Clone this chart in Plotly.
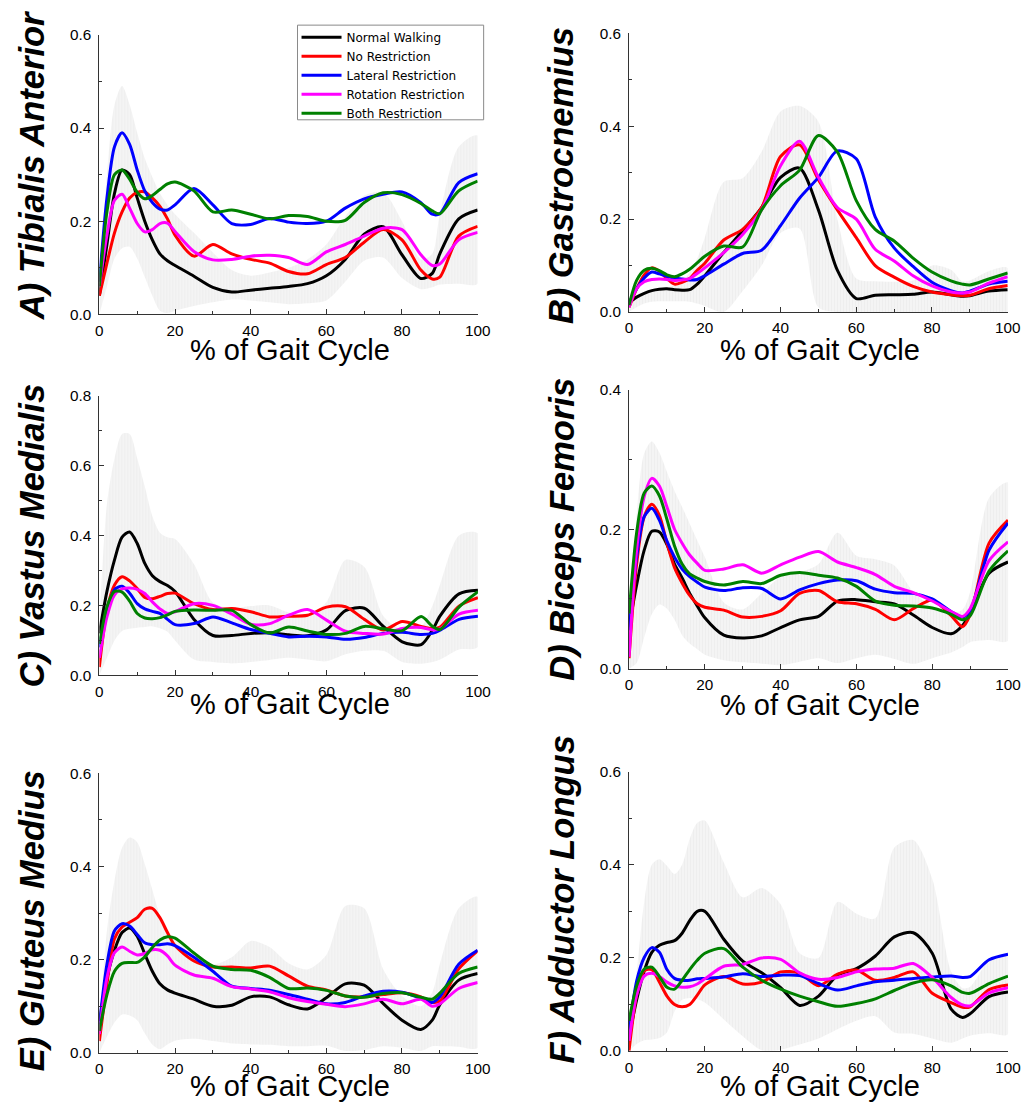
import plotly.graph_objects as go

# ---------------- data ----------------
PCT = [0, 2, 4, 6, 8, 10, 12, 14, 16, 18, 20, 25, 30, 35, 40, 45, 50, 55, 60, 65, 70, 75, 80, 85, 88, 90, 95, 100]
SERIES = ["Normal Walking", "No Restriction", "Lateral Restriction", "Rotation Restriction", "Both Restriction"]
COLORS = ["#000000", "#ff0000", "#0000ff", "#ff00ff", "#008000"]
MUSCLES = ["A) Tibialis Anterior", "B) Gastrocnemius", "C) Vastus Medialis",
           "D) Biceps Femoris", "E) Gluteus Medius", "F) Adductor Longus"]
Y_MAX = [0.6, 0.6, 0.8, 0.4, 0.6, 0.6]
X_TICKS = [0, 20, 40, 60, 80, 100]
X_TITLE = "% of Gait Cycle"

# A) Tibialis Anterior
A_NORMAL = [0.04, 0.15, 0.26, 0.31, 0.30, 0.25, 0.20, 0.16, 0.13, 0.115, 0.105, 0.082, 0.058, 0.048, 0.052, 0.056, 0.06, 0.066, 0.083, 0.118, 0.172, 0.188, 0.128, 0.077, 0.088, 0.13, 0.205, 0.224]
A_NO = [0.04, 0.11, 0.175, 0.22, 0.25, 0.262, 0.263, 0.25, 0.232, 0.205, 0.17, 0.125, 0.15, 0.13, 0.118, 0.11, 0.092, 0.087, 0.107, 0.122, 0.155, 0.182, 0.16, 0.095, 0.076, 0.08, 0.168, 0.189]
A_LAT = [0.07, 0.25, 0.36, 0.39, 0.365, 0.31, 0.265, 0.24, 0.226, 0.224, 0.235, 0.27, 0.235, 0.195, 0.193, 0.206, 0.198, 0.195, 0.2, 0.228, 0.248, 0.258, 0.263, 0.24, 0.215, 0.216, 0.283, 0.302]
A_ROT = [0.06, 0.17, 0.245, 0.258, 0.228, 0.195, 0.177, 0.182, 0.195, 0.196, 0.178, 0.135, 0.117, 0.118, 0.125, 0.127, 0.122, 0.107, 0.134, 0.15, 0.168, 0.185, 0.182, 0.128, 0.105, 0.108, 0.16, 0.176]
A_BOTH = [0.06, 0.22, 0.30, 0.31, 0.29, 0.262, 0.248, 0.255, 0.268, 0.28, 0.284, 0.265, 0.22, 0.224, 0.215, 0.205, 0.212, 0.21, 0.2, 0.202, 0.24, 0.261, 0.257, 0.238, 0.222, 0.216, 0.265, 0.286]
A_UPPER = [0.07, 0.3, 0.45, 0.49, 0.45, 0.39, 0.335, 0.295, 0.26, 0.235, 0.215, 0.175, 0.133, 0.095, 0.083, 0.09, 0.1, 0.118, 0.15, 0.21, 0.255, 0.262, 0.2, 0.118, 0.13, 0.215, 0.36, 0.384]
A_LOWER = [0.0, 0.06, 0.12, 0.142, 0.145, 0.12, 0.08, 0.04, 0.008, 0.003, 0.008, 0.018, 0.026, 0.032, 0.03, 0.026, 0.022, 0.024, 0.03, 0.07, 0.115, 0.122, 0.078, 0.054, 0.058, 0.064, 0.066, 0.066]

# B) Gastrocnemius
B_NORMAL = [0.02, 0.032, 0.04, 0.046, 0.049, 0.05, 0.048, 0.047, 0.048, 0.06, 0.078, 0.128, 0.175, 0.225, 0.29, 0.31, 0.22, 0.09, 0.029, 0.036, 0.037, 0.038, 0.043, 0.037, 0.034, 0.035, 0.045, 0.048]
B_NO = [0.01, 0.05, 0.08, 0.095, 0.088, 0.072, 0.06, 0.064, 0.072, 0.09, 0.105, 0.155, 0.178, 0.225, 0.335, 0.36, 0.285, 0.22, 0.16, 0.1, 0.075, 0.055, 0.043, 0.037, 0.035, 0.036, 0.05, 0.057]
B_LAT = [0.02, 0.05, 0.073, 0.086, 0.082, 0.077, 0.073, 0.071, 0.069, 0.07, 0.078, 0.103, 0.126, 0.133, 0.186, 0.245, 0.29, 0.347, 0.33, 0.205, 0.138, 0.098, 0.064, 0.046, 0.041, 0.045, 0.06, 0.066]
B_ROT = [0.01, 0.05, 0.065, 0.07, 0.071, 0.07, 0.068, 0.069, 0.072, 0.083, 0.095, 0.128, 0.167, 0.22, 0.315, 0.368, 0.29, 0.225, 0.2, 0.135, 0.11, 0.078, 0.056, 0.043, 0.041, 0.043, 0.062, 0.076]
B_BOTH = [0.015, 0.068, 0.09, 0.094, 0.089, 0.08, 0.076, 0.082, 0.092, 0.106, 0.12, 0.142, 0.14, 0.22, 0.272, 0.305, 0.38, 0.345, 0.24, 0.178, 0.153, 0.116, 0.086, 0.067, 0.06, 0.058, 0.071, 0.084]
B_UPPER = [0.02, 0.035, 0.042, 0.046, 0.048, 0.052, 0.058, 0.065, 0.085, 0.115, 0.16, 0.28, 0.288, 0.345, 0.432, 0.444, 0.41, 0.2, 0.072, 0.066, 0.065, 0.068, 0.1, 0.091, 0.066, 0.068, 0.088, 0.095]
B_LOWER = [0.0, 0.01, 0.018, 0.022, 0.023, 0.023, 0.023, 0.023, 0.022, 0.018, 0.013, 0.0, 0.045, 0.1, 0.17, 0.18, 0.01, 0.0, 0.0, 0.0, 0.0, 0.0, 0.0, 0.0, 0.0, 0.0, 0.0, 0.0]

# C) Vastus Medialis
C_NORMAL = [0.12, 0.24, 0.33, 0.395, 0.41, 0.377, 0.32, 0.285, 0.268, 0.257, 0.24, 0.16, 0.114, 0.114, 0.12, 0.122, 0.116, 0.113, 0.13, 0.185, 0.192, 0.14, 0.096, 0.088, 0.13, 0.17, 0.233, 0.243]
C_NO = [0.024, 0.186, 0.258, 0.282, 0.27, 0.248, 0.223, 0.219, 0.226, 0.234, 0.235, 0.205, 0.188, 0.191, 0.182, 0.167, 0.169, 0.172, 0.195, 0.196, 0.16, 0.13, 0.154, 0.14, 0.134, 0.138, 0.198, 0.222]
C_LAT = [0.08, 0.186, 0.245, 0.255, 0.235, 0.205, 0.19, 0.183, 0.177, 0.16, 0.145, 0.148, 0.167, 0.15, 0.131, 0.12, 0.11, 0.112, 0.11, 0.103, 0.108, 0.12, 0.123, 0.117, 0.12, 0.129, 0.16, 0.169]
C_ROT = [0.05, 0.167, 0.23, 0.247, 0.25, 0.246, 0.234, 0.21, 0.19, 0.177, 0.182, 0.205, 0.2, 0.175, 0.146, 0.148, 0.172, 0.188, 0.158, 0.126, 0.12, 0.118, 0.134, 0.137, 0.13, 0.133, 0.175, 0.186]
C_BOTH = [0.09, 0.196, 0.24, 0.238, 0.212, 0.177, 0.164, 0.162, 0.165, 0.173, 0.183, 0.187, 0.186, 0.186, 0.145, 0.121, 0.138, 0.127, 0.117, 0.12, 0.14, 0.133, 0.128, 0.168, 0.14, 0.131, 0.195, 0.239]
C_UPPER = [0.15, 0.49, 0.62, 0.69, 0.69, 0.62, 0.54, 0.455, 0.408, 0.395, 0.39, 0.318, 0.208, 0.192, 0.198, 0.2, 0.18, 0.17, 0.21, 0.33, 0.31, 0.17, 0.13, 0.14, 0.2, 0.26, 0.4, 0.406]
C_LOWER = [0.0, 0.05, 0.1, 0.127, 0.133, 0.136, 0.138, 0.14, 0.135, 0.125, 0.1, 0.045, 0.038, 0.034, 0.038, 0.044, 0.05, 0.045, 0.04, 0.06, 0.07, 0.07, 0.038, 0.033, 0.038, 0.045, 0.074, 0.081]

# D) Biceps Femoris
D_NORMAL = [0.06, 0.12, 0.17, 0.197, 0.196, 0.178, 0.15, 0.13, 0.108, 0.09, 0.073, 0.048, 0.044, 0.047, 0.059, 0.07, 0.075, 0.097, 0.099, 0.096, 0.093, 0.077, 0.059, 0.05, 0.062, 0.08, 0.137, 0.153]
D_NO = [0.015, 0.15, 0.218, 0.236, 0.22, 0.18, 0.145, 0.123, 0.105, 0.093, 0.088, 0.084, 0.074, 0.075, 0.083, 0.108, 0.112, 0.096, 0.093, 0.085, 0.07, 0.086, 0.098, 0.076, 0.06, 0.077, 0.18, 0.213]
D_LAT = [0.055, 0.16, 0.218, 0.23, 0.213, 0.183, 0.16, 0.143, 0.132, 0.124, 0.117, 0.112, 0.116, 0.115, 0.1, 0.113, 0.122, 0.127, 0.126, 0.114, 0.109, 0.108, 0.1, 0.082, 0.074, 0.083, 0.17, 0.209]
D_ROT = [0.017, 0.17, 0.247, 0.273, 0.262, 0.232, 0.2, 0.18, 0.163, 0.151, 0.141, 0.143, 0.149, 0.137, 0.149, 0.16, 0.168, 0.153, 0.145, 0.135, 0.118, 0.109, 0.097, 0.082, 0.075, 0.086, 0.155, 0.182]
D_BOTH = [0.079, 0.195, 0.252, 0.262, 0.248, 0.214, 0.176, 0.15, 0.136, 0.13, 0.125, 0.12, 0.125, 0.122, 0.134, 0.138, 0.134, 0.13, 0.118, 0.097, 0.091, 0.09, 0.087, 0.078, 0.07, 0.076, 0.14, 0.169]
D_UPPER = [0.03, 0.22, 0.309, 0.326, 0.31, 0.282, 0.255, 0.232, 0.208, 0.184, 0.16, 0.095, 0.085, 0.108, 0.132, 0.138, 0.15, 0.195, 0.162, 0.157, 0.148, 0.11, 0.09, 0.08, 0.085, 0.11, 0.245, 0.267]
D_LOWER = [0.0, 0.008, 0.045, 0.078, 0.092, 0.086, 0.07, 0.048, 0.036, 0.028, 0.02, 0.012, 0.009, 0.007, 0.005, 0.01, 0.015, 0.008, 0.015, 0.02, 0.014, 0.007, 0.015, 0.023, 0.031, 0.038, 0.041, 0.04]

# E) Gluteus Medius
E_NORMAL = [0.068, 0.16, 0.22, 0.258, 0.268, 0.25, 0.212, 0.175, 0.148, 0.135, 0.128, 0.115, 0.1, 0.102, 0.12, 0.12, 0.103, 0.094, 0.118, 0.148, 0.145, 0.106, 0.07, 0.05, 0.07, 0.103, 0.156, 0.17]
E_NO = [0.025, 0.147, 0.245, 0.27, 0.28, 0.29, 0.308, 0.31, 0.29, 0.258, 0.23, 0.197, 0.184, 0.184, 0.182, 0.186, 0.165, 0.143, 0.135, 0.122, 0.12, 0.125, 0.129, 0.12, 0.108, 0.111, 0.18, 0.219]
E_LAT = [0.061, 0.19, 0.262, 0.277, 0.272, 0.254, 0.236, 0.232, 0.232, 0.234, 0.23, 0.205, 0.175, 0.143, 0.138, 0.134, 0.125, 0.115, 0.105, 0.108, 0.122, 0.132, 0.13, 0.117, 0.108, 0.12, 0.19, 0.22]
E_ROT = [0.04, 0.161, 0.215, 0.227, 0.218, 0.21, 0.213, 0.221, 0.22, 0.208, 0.188, 0.167, 0.16, 0.142, 0.137, 0.131, 0.118, 0.11, 0.104, 0.099, 0.105, 0.115, 0.105, 0.115, 0.1, 0.105, 0.138, 0.151]
E_BOTH = [0.047, 0.125, 0.175, 0.192, 0.194, 0.194, 0.206, 0.226, 0.242, 0.249, 0.246, 0.214, 0.186, 0.179, 0.177, 0.162, 0.138, 0.139, 0.134, 0.122, 0.119, 0.127, 0.129, 0.119, 0.115, 0.128, 0.17, 0.184]
E_UPPER = [0.06, 0.262, 0.37, 0.44, 0.462, 0.452, 0.405, 0.35, 0.295, 0.26, 0.245, 0.215, 0.19, 0.205, 0.24, 0.227, 0.192, 0.179, 0.21, 0.315, 0.31, 0.18, 0.122, 0.1, 0.13, 0.19, 0.31, 0.335]
E_LOWER = [0.0, 0.035, 0.065, 0.082, 0.08, 0.07, 0.042, 0.018, 0.008, 0.018, 0.026, 0.03, 0.025, 0.02, 0.018, 0.017, 0.014, 0.014, 0.015, 0.004, 0.006, 0.014, 0.011, 0.004, 0.014, 0.014, 0.013, 0.011]

# F) Adductor Longus
F_NORMAL = [0.03, 0.11, 0.172, 0.212, 0.227, 0.233, 0.237, 0.253, 0.28, 0.3, 0.3, 0.24, 0.193, 0.168, 0.136, 0.098, 0.118, 0.163, 0.177, 0.204, 0.245, 0.254, 0.21, 0.09, 0.072, 0.08, 0.117, 0.127]
F_NO = [0.001, 0.12, 0.172, 0.175, 0.148, 0.118, 0.1, 0.095, 0.1, 0.12, 0.142, 0.16, 0.144, 0.148, 0.17, 0.167, 0.14, 0.165, 0.174, 0.152, 0.158, 0.17, 0.124, 0.104, 0.094, 0.095, 0.132, 0.142]
F_LAT = [0.043, 0.15, 0.201, 0.222, 0.212, 0.175, 0.156, 0.152, 0.152, 0.155, 0.156, 0.159, 0.166, 0.16, 0.163, 0.162, 0.145, 0.131, 0.14, 0.149, 0.152, 0.156, 0.159, 0.161, 0.158, 0.16, 0.196, 0.208]
F_ROT = [0.022, 0.12, 0.161, 0.167, 0.16, 0.148, 0.14, 0.137, 0.138, 0.144, 0.155, 0.182, 0.186, 0.2, 0.197, 0.168, 0.154, 0.158, 0.17, 0.176, 0.178, 0.188, 0.158, 0.115, 0.099, 0.097, 0.125, 0.136]
F_BOTH = [0.065, 0.14, 0.176, 0.18, 0.16, 0.137, 0.133, 0.152, 0.175, 0.195, 0.21, 0.22, 0.18, 0.152, 0.133, 0.118, 0.106, 0.096, 0.102, 0.112, 0.13, 0.146, 0.153, 0.14, 0.126, 0.124, 0.145, 0.161]
F_UPPER = [0.05, 0.17, 0.32, 0.4, 0.412, 0.398, 0.38, 0.4, 0.455, 0.49, 0.495, 0.405, 0.33, 0.35, 0.315, 0.21, 0.2, 0.32, 0.295, 0.285, 0.437, 0.453, 0.37, 0.17, 0.135, 0.138, 0.194, 0.204]
F_LOWER = [0.0, 0.015, 0.023, 0.025, 0.028, 0.04, 0.085, 0.11, 0.114, 0.111, 0.104, 0.068, 0.032, 0.002, 0.003, 0.014, 0.027, 0.047, 0.065, 0.075, 0.04, 0.037, 0.027, 0.018, 0.027, 0.033, 0.038, 0.036]

PANEL_LINES = [
    [A_NORMAL, A_NO, A_LAT, A_ROT, A_BOTH],
    [B_NORMAL, B_NO, B_LAT, B_ROT, B_BOTH],
    [C_NORMAL, C_NO, C_LAT, C_ROT, C_BOTH],
    [D_NORMAL, D_NO, D_LAT, D_ROT, D_BOTH],
    [E_NORMAL, E_NO, E_LAT, E_ROT, E_BOTH],
    [F_NORMAL, F_NO, F_LAT, F_ROT, F_BOTH],
]
PANEL_BANDS = [(A_UPPER, A_LOWER), (B_UPPER, B_LOWER), (C_UPPER, C_LOWER),
               (D_UPPER, D_LOWER), (E_UPPER, E_LOWER), (F_UPPER, F_LOWER)]

# ---------------- layout ----------------
# The photographed page shows the figure scaled by S and offset by (OX, OY);
# positions below are target pixel positions in the final picture.
S, OX, OY = 0.983, 3.7, 9.9
W, H = 1044, 1123
FONT = "Liberation Sans, Arial, sans-serif"


def fx(px):
    return ((px - OX) / S) / W


def fy(py):
    return 1 - ((py - OY) / S) / H


# plot-area boxes (left, right, top, bottom) in picture pixels
BOXES = [(99, 477, 35.7, 314.7), (628.3, 1006.7, 34.3, 312.3),
         (99, 477.3, 395.7, 675), (628.3, 1007, 390, 668.3),
         (99, 477, 772.7, 1051.7), (628.3, 1007, 771, 1050)]
YTITLE_POS = [(32.5, 166), (561, 176), (32, 535), (561, 529), (32, 920), (561, 899)]
XTITLE_POS = [(289, 350), (819, 350), (289, 704), (819, 705), (289, 1085), (819, 1085)]
LEGEND_BOX = (297, 483, 26, 120.5)

fig = go.Figure()
layout = dict(
    width=W, height=H, margin=dict(l=0, r=0, t=0, b=0),
    paper_bgcolor="white", plot_bgcolor="white",
    font=dict(family=FONT, color="black"),
    showlegend=True,
    legend=dict(x=fx(297) - 1.0 / W, y=fy(23.5), xanchor="left", yanchor="top",
                bgcolor="rgba(0,0,0,0)", borderwidth=0,
                font=dict(family="DejaVu Sans, sans-serif", size=12, color="black"),
                tracegroupgap=0, itemwidth=40),
)
annotations = []

for i in range(6):
    sfx = "" if i == 0 else str(i + 1)
    xa, ya = "x" + sfx, "y" + sfx
    l, r, t, b = BOXES[i]
    up, lo = PANEL_BANDS[i]
    fig.add_trace(go.Scatter(
        x=PCT + PCT[::-1], y=up + lo[::-1], xaxis=xa, yaxis=ya,
        mode="lines", line=dict(width=0, shape="spline", smoothing=0.8),
        fill="toself", fillcolor="#f1f1f1",
        fillpattern=dict(shape="|", fgcolor="#e6e6e6", bgcolor="#f4f4f4", size=3, solidity=0.3),
        showlegend=False, hoverinfo="skip"))
    for k in range(5):
        fig.add_trace(go.Scatter(
            x=PCT, y=PANEL_LINES[i][k], xaxis=xa, yaxis=ya, mode="lines",
            name=SERIES[k], line=dict(color=COLORS[k], width=3, shape="spline", smoothing=0.8),
            showlegend=(i == 0), legendgroup=SERIES[k]))

    axis_common = dict(showline=True, linecolor="#333333", linewidth=1.2,
                       ticks="inside", ticklen=5, tickwidth=1.2, tickcolor="#333333",
                       showgrid=False, zeroline=False, mirror=False,
                       tickfont=dict(family=FONT, size=15.3, color="black"))
    layout["xaxis" + sfx] = dict(
        axis_common, domain=[fx(l), fx(r)], anchor=ya, range=[0, 100],
        tickvals=X_TICKS, minor=dict(ticks="inside", ticklen=3, dtick=10, tick0=0, tickcolor="#333333"),
        ticklabelstandoff=2)
    layout["yaxis" + sfx] = dict(
        axis_common, domain=[fy(b), fy(t)], anchor=xa, range=[0, Y_MAX[i]],
        dtick=0.2, tick0=0, tickformat=".1f",
        minor=dict(ticks="inside", ticklen=3, dtick=0.1, tick0=0, tickcolor="#333333"),
        ticklabelstandoff=4)

    yx, yy = YTITLE_POS[i]
    annotations.append(dict(
        text=MUSCLES[i], x=fx(yx), y=fy(yy), xref="paper", yref="paper",
        xanchor="center", yanchor="middle", textangle=-90, showarrow=False,
        font=dict(family=FONT, size=34.5, color="black", weight="bold", style="italic")))
    tx, ty = XTITLE_POS[i]
    annotations.append(dict(
        text=X_TITLE, x=fx(tx), y=fy(ty), xref="paper", yref="paper",
        xanchor="center", yanchor="middle", showarrow=False,
        font=dict(family=FONT, size=29, color="black")))

lx0, lx1, ly0, ly1 = LEGEND_BOX
layout["shapes"] = [dict(type="rect", xref="paper", yref="paper",
                         x0=fx(lx0), x1=fx(lx1), y0=fy(ly1), y1=fy(ly0),
                         line=dict(color="#8a8a8a", width=1), fillcolor="white", layer="above")]
layout["annotations"] = annotations
fig.update_layout(**layout)

POST = (
    "var gd=document.getElementById('{plot_id}');"
    "document.documentElement.style.margin='0';document.body.style.margin='0';"
    "document.documentElement.style.overflow='hidden';document.body.style.overflow='hidden';"
    "gd.style.position='fixed';gd.style.left='0px';gd.style.top='0px';"
)
fig.write_html("out.html", config={"displayModeBar": False}, post_script=POST)
